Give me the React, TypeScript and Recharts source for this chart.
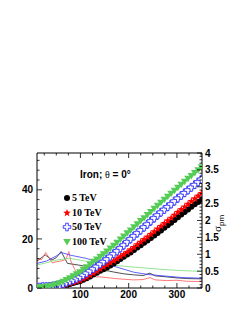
import * as React from "react";
import {ComposedChart, Legend, Line, Scatter, XAxis, YAxis} from "recharts";

// depth values of the simulated profile points (x axis)
const DEPTH = [15, 22, 29, 36, 43, 50, 57, 64, 71, 78, 85, 92, 99, 106, 113, 120, 127, 134, 141, 148,
    155, 162, 169, 176, 183, 190, 197, 204, 211, 218, 225, 232, 239, 246, 253, 260, 267, 274, 281, 288,
    295, 302, 309, 316, 323, 330, 337, 344, 351];

const SIZE_5TEV = [0.1, 0.1, 0.2, 0.3, 0.3, 0.5, 0.7, 1.0, 1.3, 1.6, 2.0, 2.4, 2.8, 3.4, 4.0, 4.7, 5.5, 6.2, 7.0, 7.6,
    8.4, 9.2, 10.0, 10.9, 11.8, 12.7, 13.6, 14.5, 15.5, 16.5, 17.4, 18.4, 19.4, 20.4, 21.4, 22.4, 23.4, 24.5, 25.6, 26.6,
    27.7, 28.8, 29.9, 31.0, 32.0, 33.1, 34.1, 35.0, 36.0];
const SIZE_10TEV = [0.1, 0.2, 0.2, 0.3, 0.4, 0.6, 0.8, 1.1, 1.4, 1.8, 2.2, 2.6, 3.0, 3.7, 4.4, 5.2, 6.0, 6.8, 7.7, 8.6,
    9.5, 10.3, 11.1, 11.9, 12.8, 13.7, 14.6, 15.6, 16.6, 17.7, 18.7, 19.8, 20.8, 21.9, 23.0, 24.1, 25.2, 26.3, 27.4, 28.5,
    29.7, 30.9, 32.0, 33.1, 34.2, 35.3, 36.4, 37.5, 38.6];
const SIZE_50TEV = [0.4, 0.6, 0.6, 0.7, 0.9, 1.1, 1.4, 1.8, 2.3, 2.8, 3.3, 3.9, 4.5, 5.3, 6.1, 7.0, 7.9, 8.8, 9.8, 10.8,
    11.8, 12.9, 14.0, 15.1, 16.3, 17.5, 18.8, 20.0, 21.2, 22.4, 23.6, 24.8, 26.0, 27.3, 28.5, 29.7, 30.9, 32.0, 33.1, 34.2,
    35.4, 36.6, 37.7, 38.8, 39.9, 41.0, 42.1, 43.2, 44.3];
const SIZE_100TEV = [0.3, 0.4, 0.6, 0.8, 1.1, 1.5, 2.0, 2.6, 3.3, 4.0, 4.8, 5.6, 6.5, 7.5, 8.5, 9.6, 10.7, 11.7, 12.8, 13.8,
    14.9, 16.1, 17.3, 18.5, 19.8, 21.0, 22.3, 23.5, 24.8, 26.0, 27.3, 28.5, 29.8, 31.0, 32.3, 33.5, 34.8, 36.0, 37.2, 38.4,
    39.7, 40.9, 42.1, 43.3, 44.5, 45.7, 46.9, 48.0, 49.2];

// sigma_pm curves (right axis)
const SIGMA_5TEV_X = [10, 27, 41, 50, 60, 73, 96, 120, 130, 145, 160, 170, 190, 210, 230, 244, 255, 279, 300, 320, 352];
const SIGMA_5TEV_Y = [0.8, 0.98, 0.83, 0.9, 1.08, 0.73, 0.68, 0.62, 0.64, 0.53, 0.5, 0.47, 0.42, 0.39, 0.37, 0.44, 0.36, 0.33, 0.3, 0.28, 0.27];
const SIGMA_10TEV_X = [10, 20, 28, 35, 42, 50, 60, 70, 76, 80, 90, 100, 111, 120, 126, 132, 141, 160, 180, 210, 230, 244, 255, 279, 300, 320, 352];
const SIGMA_10TEV_Y = [0.83, 0.85, 1.05, 0.9, 0.74, 0.78, 0.8, 0.85, 1.08, 0.8, 0.5, 0.42, 0.38, 0.4, 0.45, 0.33, 0.33, 0.3, 0.27, 0.24, 0.25, 0.31, 0.24, 0.22, 0.23, 0.2, 0.19];
const SIGMA_50TEV_X = [10, 30, 50, 61, 80, 111, 145, 180, 210, 240, 279, 310, 352];
const SIGMA_50TEV_Y = [0.73, 0.8, 0.95, 1.05, 0.97, 0.88, 0.75, 0.6, 0.47, 0.4, 0.35, 0.31, 0.29];
const SIGMA_100TEV_X = [10, 30, 51, 77, 110, 145, 180, 210, 244, 280, 320, 352];
const SIGMA_100TEV_Y = [0.68, 0.75, 0.83, 0.88, 0.8, 0.73, 0.66, 0.62, 0.58, 0.54, 0.51, 0.49];

const X_TICKS = [25, 50, 75, 100, 125, 150, 175, 200, 225, 250, 275, 300, 325, 350];
const LEFT_TICKS = [0, 4, 8, 12, 16, 20, 24, 28, 32, 36, 40, 44, 48, 52];
const RIGHT_TICKS = [0, 0.1, 0.2, 0.3, 0.4, 0.5, 0.6, 0.7, 0.8, 0.9, 1, 1.1, 1.2, 1.3, 1.4, 1.5, 1.6, 1.7, 1.8, 1.9,
    2, 2.1, 2.2, 2.3, 2.4, 2.5, 2.6, 2.7, 2.8, 2.9, 3, 3.1, 3.2, 3.3, 3.4, 3.5, 3.6, 3.7, 3.8, 3.9, 4];
const LEGEND_LABELS = ["5 TeV", "10 TeV", "50 TeV", "100 TeV"];

const RED = "#ff0000";
const BLUE = "#3030ff";
const GREEN = "#55cc55";
const AXIS_FONT = "'Liberation Sans', Arial, sans-serif";
const SERIF = "'Liberation Serif', 'Times New Roman', serif";

const toPoints = (xs: number[], ys: number[]) => xs.map((x, i) => ({x, y: ys[i]}));

const DotShape = (p: any) => <circle cx={p.cx} cy={p.cy} r={3} fill="#000"/>;

const StarShape = (p: any) => {
    const pts: string[] = [];
    for (let i = 0; i < 10; i++) {
        const r = i % 2 === 0 ? 4 : 1.7;
        const a = -Math.PI / 2 + i * Math.PI / 5;
        pts.push(`${p.cx + r * Math.cos(a)},${p.cy + r * Math.sin(a)}`);
    }
    return <polygon points={pts.join(" ")} fill={RED}/>;
};

const CrossShape = (p: any) => {
    const a = 1.3, b = 3.8, x = p.cx, y = p.cy;
    const pts = [[-a, -b], [a, -b], [a, -a], [b, -a], [b, a], [a, a], [a, b], [-a, b], [-a, a], [-b, a], [-b, -a], [-a, -a]]
        .map(([dx, dy]) => `${x + dx},${y + dy}`).join(" ");
    return <polygon points={pts} fill="#fff" stroke={BLUE} strokeWidth={0.9}/>;
};

const TriangleShape = (p: any) => (
    <polygon points={`${p.cx - 3.8},${p.cy - 2.9} ${p.cx + 3.8},${p.cy - 2.9} ${p.cx},${p.cy + 3.6}`} fill={GREEN}/>
);

const SHAPES = [DotShape, StarShape, CrossShape, TriangleShape];

// ticks drawn inside the frame, ROOT style
const BottomTick = (p: any) => {
    const v = p.payload.value;
    const axisY = p.y - 2;
    const major = v % 100 === 0;
    return (
        <g>
            <line x1={p.x} x2={p.x} y1={axisY} y2={axisY - (major ? 5 : 2.5)} stroke="#000" strokeWidth={0.8}/>
            {major && <text x={p.x} y={axisY + 9.5} textAnchor="middle" fontSize={10} fontWeight="bold"
                            fontFamily={AXIS_FONT} fill="#000">{v}</text>}
        </g>
    );
};

const TopTick = (p: any) => {
    const v = p.payload.value;
    const axisY = p.y + 2;
    return <line x1={p.x} x2={p.x} y1={axisY} y2={axisY + (v % 100 === 0 ? 5 : 2.5)} stroke="#000" strokeWidth={0.8}/>;
};

const LeftTick = (p: any) => {
    const v = p.payload.value;
    const axisX = p.x + 4;
    const major = v % 20 === 0;
    return (
        <g>
            <line x1={axisX} x2={axisX + (major ? 5 : 2.5)} y1={p.y} y2={p.y} stroke="#000" strokeWidth={0.8}/>
            {major && <text x={p.x} y={p.y + 3.6} textAnchor="end" fontSize={10} fontWeight="bold"
                            fontFamily={AXIS_FONT} fill="#000">{v}</text>}
        </g>
    );
};

const RightTick = (p: any) => {
    const v = p.payload.value;
    const axisX = p.x - 3;
    const major = Math.abs(v * 2 - Math.round(v * 2)) < 1e-6;
    return (
        <g>
            <line x1={axisX} x2={axisX - (major ? 5 : 2.5)} y1={p.y} y2={p.y} stroke="#000" strokeWidth={0.8}/>
            {major && <text x={p.x} y={p.y + 3.6} textAnchor="start" fontSize={10} fontWeight="bold"
                            fontFamily={AXIS_FONT} fill="#000">{v}</text>}
        </g>
    );
};

const SigmaLabel = (p: any) => {
    const vb = p.viewBox;
    const x = vb.x + 19;
    const y = vb.y + vb.height * 0.585;
    return (
        <text transform={`translate(${x},${y}) rotate(-90)`} fontSize={11} fontFamily={SERIF} fill="#000">
            σ<tspan dy={3} fontSize={8} fontFamily={AXIS_FONT}>pm</tspan>
        </text>
    );
};

const LegendBox = () => (
    <div style={{position: "relative", width: 100, height: 95}}>
        <div style={{position: "absolute", left: 20, top: 8, lineHeight: "14px", fontSize: 10, whiteSpace: "nowrap",
            fontFamily: AXIS_FONT, fontWeight: "bold"}}>
            Iron; <span style={{fontFamily: SERIF, fontWeight: "normal"}}>θ</span> = 0°
        </div>
        {LEGEND_LABELS.map((label, i) => {
            const Shape = SHAPES[i];
            return (
                <div key={label} style={{position: "absolute", left: 0, top: 31 + i * 14.7, height: 14,
                    display: "flex", alignItems: "center", whiteSpace: "nowrap"}}>
                    <svg width={12} height={14}><Shape cx={7} cy={7}/></svg>
                    <span style={{fontFamily: SERIF, fontWeight: "bold", fontSize: 10, lineHeight: "14px"}}>{label}</span>
                </div>
            );
        })}
    </div>
);

export default function App() {
    const series = [SIZE_5TEV, SIZE_10TEV, SIZE_50TEV, SIZE_100TEV];
    const sigmas = [
        {data: toPoints(SIGMA_5TEV_X, SIGMA_5TEV_Y), color: "#222"},
        {data: toPoints(SIGMA_10TEV_X, SIGMA_10TEV_Y), color: "#ff5555"},
        {data: toPoints(SIGMA_50TEV_X, SIGMA_50TEV_Y), color: "#3a3aff"},
        {data: toPoints(SIGMA_100TEV_X, SIGMA_100TEV_Y), color: "#77dd77"},
    ];
    return (
        <div style={{position: "absolute", left: 0, top: 0, width: 247, height: 319, background: "#fff"}}>
            <ComposedChart width={247} height={319} margin={{top: 148, right: 0, bottom: 11, left: 0}}>
                <XAxis xAxisId="b" type="number" dataKey="x" domain={[10, 352]} allowDataOverflow
                       ticks={X_TICKS} interval={0} tick={<BottomTick/>} tickLine={false} tickSize={0}
                       tickMargin={2} height={20} axisLine={{stroke: "#000"}}/>
                <XAxis xAxisId="t" orientation="top" type="number" dataKey="x" domain={[10, 352]} allowDataOverflow
                       ticks={X_TICKS} interval={0} tick={<TopTick/>} tickLine={false} tickSize={0}
                       tickMargin={2} height={5} axisLine={{stroke: "#000"}}/>
                <YAxis yAxisId="l" type="number" domain={[0, 55]} allowDataOverflow ticks={LEFT_TICKS} interval={0}
                       tick={<LeftTick/>} tickLine={false} tickSize={0} tickMargin={4} width={37}
                       axisLine={{stroke: "#000"}}/>
                <YAxis yAxisId="r" orientation="right" type="number" domain={[0, 4]} allowDataOverflow
                       ticks={RIGHT_TICKS} interval={0} tick={<RightTick/>} tickLine={false} tickSize={0}
                       tickMargin={3} width={45} axisLine={{stroke: "#000"}} label={<SigmaLabel/>}/>
                {series.map((ys, i) => (
                    <Scatter key={LEGEND_LABELS[i]} name={LEGEND_LABELS[i]} xAxisId="b" yAxisId="l"
                             data={toPoints(DEPTH, ys)} dataKey="y" shape={SHAPES[i]} isAnimationActive={false}/>
                ))}
                {sigmas.map((s, i) => (
                    <Line key={"sigma" + i} xAxisId="b" yAxisId="r" data={s.data} dataKey="y" type="linear"
                          stroke={s.color} strokeWidth={0.8} dot={false} legendType="none"
                          isAnimationActive={false}/>
                ))}
                <Legend layout="vertical" align="center" verticalAlign="middle" content={<LegendBox/>}
                        wrapperStyle={{left: 60, top: 160, width: 100, height: 95}}/>
            </ComposedChart>
        </div>
    );
}
